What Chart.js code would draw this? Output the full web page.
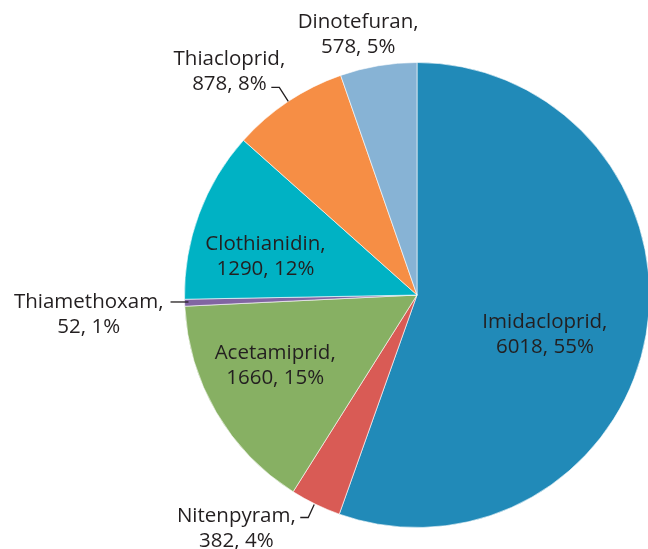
<!DOCTYPE html>
<html>
<head>
<meta charset="utf-8">
<script src="https://cdn.jsdelivr.net/npm/chart.js@4/dist/chart.umd.min.js"></script>
<style>
  html, body { margin: 0; padding: 0; background: #fff; overflow: hidden; }
  #wrap { position: relative; width: 652px; height: 549px; }
</style>
</head>
<body>
<div id="wrap"><canvas id="Canvas1"></canvas></div>
<script>
// data
var labels = ["Imidacloprid", "Nitenpyram", "Acetamiprid", "Thiamethoxam", "Clothianidin", "Thiacloprid", "Dinotefuran"];
var values = [6018, 382, 1660, 52, 1290, 878, 578];
var percents = ["55%", "4%", "15%", "1%", "12%", "8%", "5%"];

var colors = ['#218ab8', '#d95b55', '#87b063', '#8165a2', '#00b2c4', '#f68e45', '#87b3d5'];

// label centres, in units of radius from the pie centre
var labelPos = [[0.55, 0.167], [-0.777, 1.004], [-0.61, 0.30], [-1.412, 0.082],
                [-0.652, -0.167], [-0.807, -0.961], [-0.253, -1.124]];
// leader lines (pixels from the pie centre at r=233)
var leaders = {
    1: [[-117, 223], [-109, 223], [-103, 210]],
    3: [[-247, 7], [-229, 7]],
    5: [[-146, -208], [-138, -208], [-129, -194]]
};

var labelPlugin = {
    id: 'sliceLabels',
    afterDatasetsDraw: function(chart) {
        var ctx = chart.ctx;
        var arcs = chart.getDatasetMeta(0).data;
        var cx = arcs[0].x, cy = arcs[0].y, r = arcs[0].outerRadius;
        var k = r / 233;
        ctx.save();
        ctx.fillStyle = '#231f20';
        ctx.strokeStyle = '#231f20';
        ctx.lineWidth = 1.3;
        ctx.font = '20.5px "Open Sans"';
        ctx.textAlign = 'center';
        ctx.textBaseline = 'middle';
        for (var i = 0; i < labels.length; i++) {
            var x = cx + labelPos[i][0] * r;
            var y = cy + labelPos[i][1] * r;
            ctx.fillText(labels[i] + ',', x, y - 12);
            ctx.fillText(values[i] + ', ' + percents[i], x, y + 13);
            if (leaders[i]) {
                ctx.beginPath();
                leaders[i].forEach(function(p, j) {
                    if (j === 0) ctx.moveTo(cx + p[0] * k, cy + p[1] * k);
                    else ctx.lineTo(cx + p[0] * k, cy + p[1] * k);
                });
                ctx.stroke();
            }
        }
        ctx.restore();
    }
};

var GKChart = document.getElementById('Canvas1').getContext('2d');
var myChart = new Chart(GKChart, {
    type: 'pie',
    data: {
        labels: labels,
        datasets: [{
            data: values,
            backgroundColor: colors,
            borderColor: 'rgba(255,255,255,0.6)',
            borderWidth: 1
        }]
    },
    options: {
        responsive: true,
        maintainAspectRatio: false,
        animation: false,
        layout: { padding: { left: 184, right: 2, top: 62, bottom: 21 } },
        plugins: {
            legend: { display: false },
            tooltip: { enabled: false }
        }
    },
    plugins: [labelPlugin]
});
</script>
</body>
</html>
